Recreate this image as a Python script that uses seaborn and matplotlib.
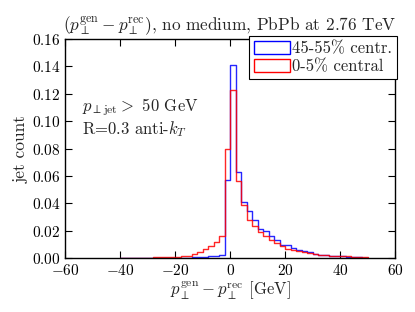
import numpy as np
import pandas as pd
import matplotlib
matplotlib.use("Agg")
import matplotlib.pyplot as plt
import seaborn as sns
from matplotlib.patches import Patch

# ---- data ----
bin_edges = list(range(-40, 52, 2))          # 2 GeV bins from -40 to 50
bin_lows = bin_edges[:-1]

peripheral = [  # 45-55% centr.
    0.0000, 0.0000, 0.0000, 0.0001, 0.0001, 0.0001, 0.0001, 0.0001, 0.0001, 0.0002,
    0.0002, 0.0002, 0.0003, 0.0004, 0.0005, 0.0008, 0.0012, 0.0017, 0.0024, 0.0570,
    0.1407, 0.0630, 0.0410, 0.0346, 0.0278, 0.0212, 0.0195, 0.0163, 0.0132, 0.0098,
    0.0095, 0.0076, 0.0061, 0.0051, 0.0041, 0.0032, 0.0024, 0.0022, 0.0017, 0.0015,
    0.0012, 0.0010, 0.0007, 0.0005, 0.0003,
]
central = [  # 0-5% central
    0.0002, 0.0002, 0.0002, 0.0003, 0.0003, 0.0003, 0.0004, 0.0004, 0.0005, 0.0006,
    0.0008, 0.0012, 0.0017, 0.0027, 0.0046, 0.0066, 0.0085, 0.0119, 0.0158, 0.0800,
    0.1230, 0.0560, 0.0388, 0.0280, 0.0237, 0.0193, 0.0159, 0.0132, 0.0110, 0.0085,
    0.0066, 0.0061, 0.0051, 0.0041, 0.0034, 0.0027, 0.0024, 0.0020, 0.0017, 0.0012,
    0.0012, 0.0012, 0.0010, 0.0007, 0.0005,
]
labels = ["45-55% centr.", "0-5% central"]
colors = ["#0000ff", "#ff0000"]

x_ticks = [-60, -40, -20, 0, 20, 40, 60]
y_ticks = [0.00, 0.02, 0.04, 0.06, 0.08, 0.10, 0.12, 0.14, 0.16]

# ---- style ----
sns.set_theme(style="ticks")
plt.rcParams.update({
    "font.family": "serif",
    "font.serif": ["cmr10", "DejaVu Serif"],
    "mathtext.fontset": "cm",
    "axes.formatter.use_mathtext": True,
    "axes.unicode_minus": True,
    "xtick.direction": "in",
    "ytick.direction": "in",
    "xtick.top": True,
    "ytick.right": True,
    "axes.edgecolor": "black",
    "axes.linewidth": 1.0,
    "xtick.color": "black",
    "ytick.color": "black",
    "font.size": 11,
})

fig = plt.figure(figsize=(4.15, 3.12), dpi=100)
ax = fig.add_axes([0.157, 0.173, 0.795, 0.702])

centers = [lo + 1 for lo in bin_lows]
for vals, col in zip([peripheral, central], colors):
    df = pd.DataFrame({"x": centers, "w": vals})
    sns.histplot(data=df, x="x", weights="w", bins=bin_edges, element="step",
                 fill=False, color=col, linewidth=1.0, alpha=0.85, ax=ax)

ax.set_xlim(-60, 60)
ax.set_ylim(0, 0.16)
ax.set_xticks(x_ticks)
ax.set_yticks(y_ticks)
ax.yaxis.set_major_formatter(matplotlib.ticker.FormatStrFormatter(r"$%.2f$"))
ax.xaxis.set_major_formatter(matplotlib.ticker.FuncFormatter(lambda v, p: r"$%d$" % v))
ax.tick_params(labelsize=11, length=5, width=0.8)

ax.set_xlabel(r"$p_\perp^{\rm gen} - p_\perp^{\rm rec}$ [GeV]", fontsize=12, labelpad=1)
ax.set_ylabel("jet count", fontsize=12.5, labelpad=2)
ax.set_title(r"$(p_\perp^{\rm gen} - p_\perp^{\rm rec})$, no medium, PbPb at 2.76 TeV",
             fontsize=12.4, pad=6)

ax.text(0.05, 0.69, r"$p_{\perp{\rm jet}} >$ 50 GeV", transform=ax.transAxes,
        fontsize=12, va="center", ha="left")
ax.text(0.05, 0.59, r"R=0.3 anti-$k_T$", transform=ax.transAxes,
        fontsize=12, va="center", ha="left")

handles = [Patch(facecolor="none", edgecolor=c, linewidth=1.0) for c in colors]
leg = ax.legend(handles, labels, loc="upper right", bbox_to_anchor=(1.006, 1.013),
                borderaxespad=0, fontsize=12, frameon=True, fancybox=False,
                handlelength=2.2, handleheight=0.8, handletextpad=0.1,
                labelspacing=0.15, borderpad=0.3)
leg.get_frame().set_edgecolor("black")
leg.get_frame().set_linewidth(0.8)
leg.get_frame().set_alpha(1.0)

fig.savefig("out.png", dpi=100)
